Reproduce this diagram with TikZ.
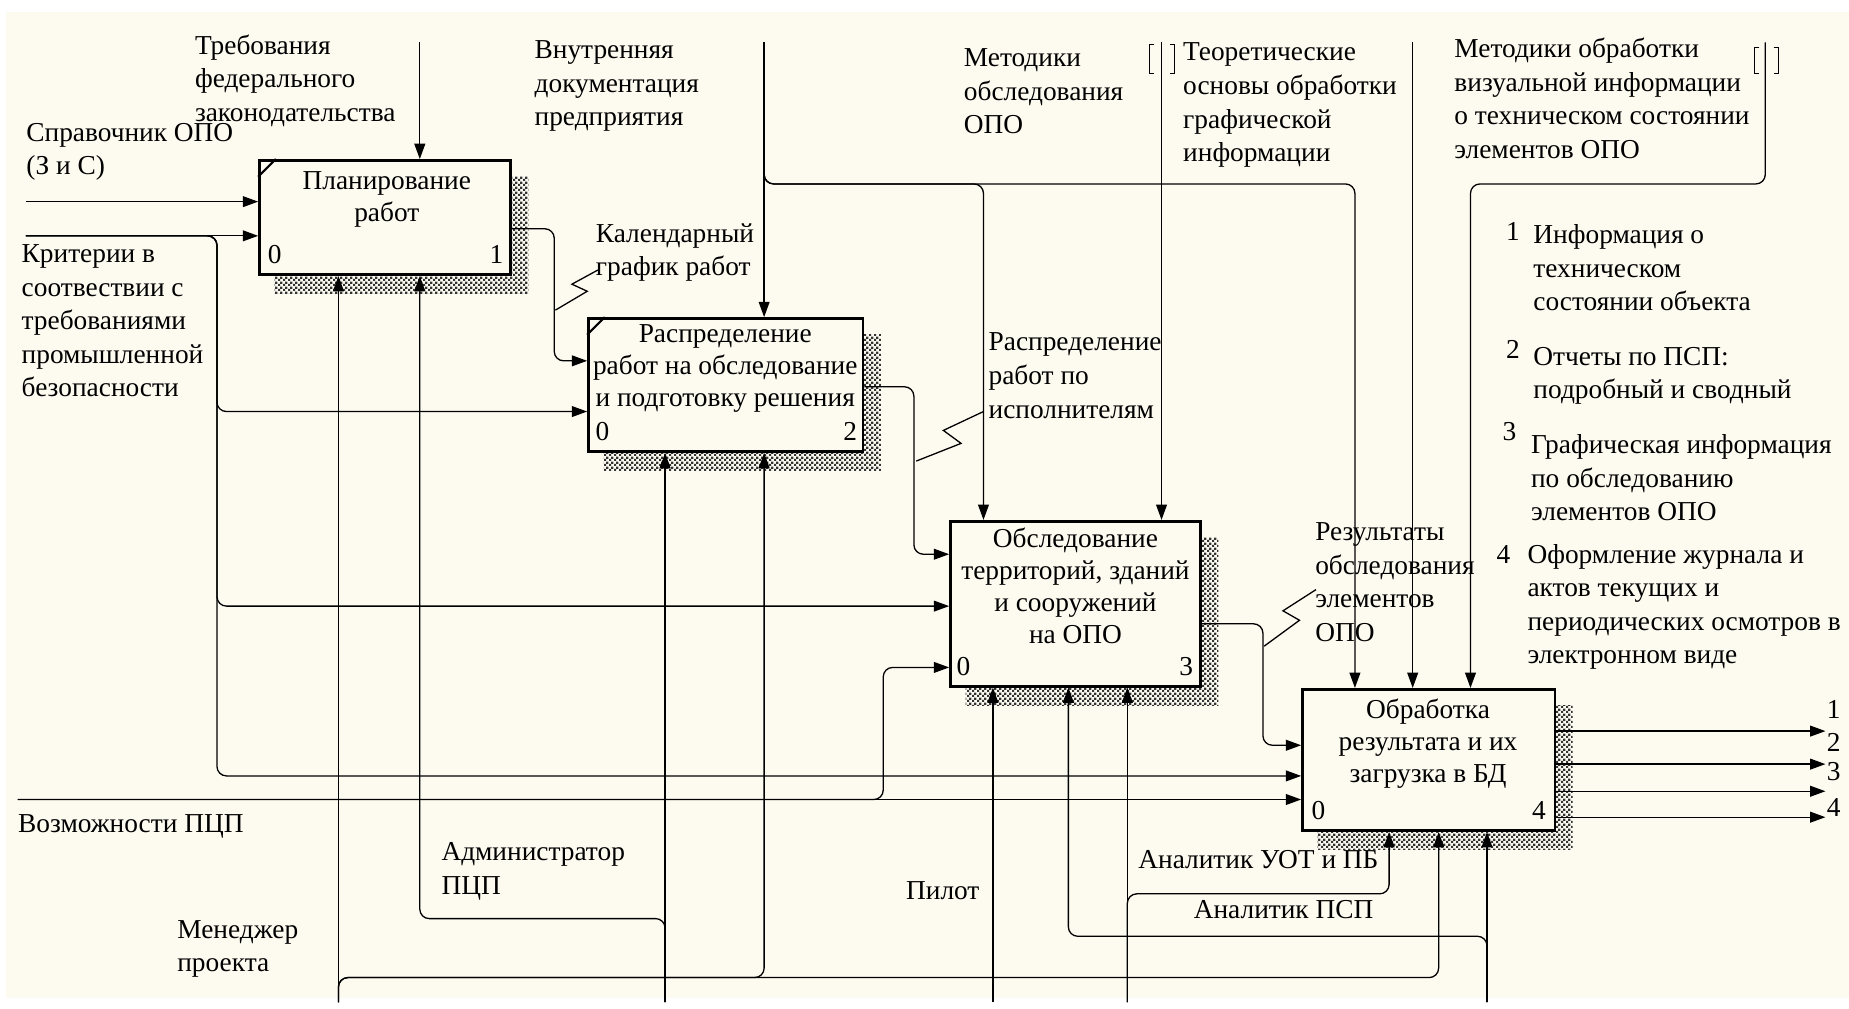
\documentclass[tikz,border=0pt]{standalone}
\usepackage{fontspec}
\setmainfont{Liberation Serif}
\usetikzlibrary{arrows.meta,patterns,backgrounds}
\definecolor{paper}{RGB}{253,250,240}
% fine checker used for the box shadows
\pgfdeclarepatternformonly{shadowdots}{\pgfpointorigin}{\pgfqpoint{2pt}{2pt}}{\pgfqpoint{2pt}{2pt}}%
  {\pgfpathrectangle{\pgfpointorigin}{\pgfqpoint{1pt}{1pt}}%
   \pgfpathrectangle{\pgfqpoint{1pt}{1pt}}{\pgfqpoint{1pt}{1pt}}\pgfusepath{fill}}

\begin{document}
\begin{tikzpicture}[x=0.5pt,y=-0.5pt,
  lbl/.style={anchor=north west, inner sep=0pt, align=left, font=\fontsize{11.6}{14.25}\selectfont},
  boxtxt/.style={anchor=north, inner sep=0pt, align=center, font=\fontsize{11.6}{13.6}\selectfont},
  num/.style={inner sep=0pt, font=\fontsize{11.6}{13}\selectfont},
  func/.style={draw, line width=1.1pt, fill=paper, inner sep=0pt},
  wire/.style={line width=0.55pt},
  arr/.style={wire, -{Triangle[length=6.5pt,width=4.6pt]}},
  rc/.style={rounded corners=4pt},
  brk/.style={line width=0.5pt},
  shadowfill/.style={pattern=shadowdots, pattern color=black!80},
]
\useasboundingbox (0,0) rectangle (1568,855);

% ---- activity boxes
\node[func, minimum width=106.5pt, minimum height=48.5pt] (b1) at (326.5,184.5) {};
\node[func, minimum width=116.5pt, minimum height=56.5pt] (b2) at (615.5,326.5) {};
\node[func, minimum width=106pt,   minimum height=70pt]   (b3) at (912,512) {};
\node[func, minimum width=107pt,   minimum height=60pt]   (b4) at (1211.5,644.5) {};

\begin{scope}[on background layer]
  \fill[paper] (5,10) rectangle (1568,846);
  \foreach \b in {b1,b2,b3,b4}
    \fill[shadowfill] ([shift={(14,15)}]\b.south west) rectangle ([shift={(14,15)}]\b.north east);
\end{scope}

% corner ticks of the undecomposed activities
\draw[line width=0.9pt] ([yshift=-7.5pt]b1.north west) -- ([xshift=7.5pt]b1.north west);
\draw[line width=0.9pt] ([yshift=-7.5pt]b2.north west) -- ([xshift=7.5pt]b2.north west);

% ---- box texts
\node[boxtxt] (t1) at (328,145) {Планирование\\работ};
\node[boxtxt] (t2) at (615,275) {Распределение\\работ на обследование\\и подготовку решения};
\node[boxtxt] (t3) at (912,447) {Обследование\\территорий, зданий\\и сооружений\\на ОПО};
\node[boxtxt] (t4) at (1211,592) {Обработка\\результата и их\\загрузка в БД};
\node[num] (n10) at (233,216) {0};  \node[num] (n11) at (421,216) {1};
\node[num] (n20) at (511,366) {0};  \node[num] (n22) at (721,366) {2};
\node[num] (n30) at (817,565) {0};  \node[num] (n33) at (1006,565) {3};
\node[num] (n40) at (1118,687) {0}; \node[num] (n44) at (1305,687) {4};

% ---- free ends and bends
\coordinate (sSpr) at (22,171);
\coordinate (sKr)  at (22,200);
\coordinate (jKr)  at (184,200);
\coordinate (sVz)  at (15,678);
\coordinate (jVz)  at (749,678);
\coordinate (cTr)  at (356,36);
\coordinate (cVn)  at (648,36);
\coordinate (cMo)  at (985,36);
\coordinate (cTe)  at (1198,36);
\coordinate (cMv)  at (1497,36);
\coordinate (jVn3) at (834,156);
\coordinate (jVn4) at (1149,156);
\coordinate (jMv)  at (1247,156);
\coordinate (o1)   at (470,194);
\coordinate (o2)   at (775,328);
\coordinate (o3)   at (1071,529);
\coordinate (y306) at (0,306);
\coordinate (y349) at (0,349);
\coordinate (y470) at (0,470);
\coordinate (y514) at (0,514);
\coordinate (y566) at (0,566);
\coordinate (y632) at (0,632);
\coordinate (y658) at (0,658);
\coordinate (e1)   at (1548,620);
\coordinate (e2)   at (1548,648);
\coordinate (e3)   at (1548,671);
\coordinate (e4)   at (1548,693);
\coordinate (mMen) at (287,850);
\coordinate (mAdm) at (564,850);
\coordinate (mPil) at (842,850);
\coordinate (mUot) at (956,850);
\coordinate (mPsp) at (1261,850);
\coordinate (jMen2) at (648,829);
\coordinate (jMen4) at (1220,829);
\coordinate (jAdm) at (356,779);
\coordinate (jUot) at (1178,758);
\coordinate (jPsp) at (906,794);

% ---- inputs
\draw[arr] (sSpr) -- (sSpr -| b1.west);
\draw[arr] (sKr) -- (sKr -| b1.west);
\draw[arr,rc] (sKr) -- (jKr) |- (y349 -| b2.west);
\draw[arr,rc] (sKr) -- (jKr) |- (y514 -| b3.west);
\draw[arr,rc] (sKr) -- (jKr) |- (y658 -| b4.west);
\draw[arr] (sVz) -- (sVz -| b4.west);
\draw[arr,rc] (sVz) -- (jVz) |- (y566 -| b3.west);

% ---- controls
\draw[arr] (cTr) -- (cTr |- b1.north);
\draw[arr] (cVn) -- (cVn |- b2.north);
\draw[arr,rc] (cVn) |- (jVn3) -- (jVn3 |- b3.north);
\draw[arr,rc] (cVn) |- (jVn4) -- (jVn4 |- b4.north);
\draw[arr] (cMo) -- (cMo |- b3.north);
\draw[arr] (cTe) -- (cTe |- b4.north);
\draw[arr,rc] (cMv) |- (jMv) -- (jMv |- b4.north);

% tunnel brackets
\draw[brk] (979,38) -- (975,38) -- (975,62) -- (979,62);
\draw[brk] (992,38) -- (996,38) -- (996,62) -- (992,62);
\draw[brk] (1492,40) -- (1488,40) -- (1488,62) -- (1492,62);
\draw[brk] (1504,40) -- (1508,40) -- (1508,62) -- (1504,62);

% ---- outputs between activities
\draw[arr,rc] (o1 -| b1.east) -- (o1) |- (y306 -| b2.west);
\draw[arr,rc] (o2 -| b2.east) -- (o2) |- (y470 -| b3.west);
\draw[arr,rc] (o3 -| b3.east) -- (o3) |- (y632 -| b4.west);

% ---- final outputs
\draw[arr] (e1 -| b4.east) -- (e1);
\draw[arr] (e2 -| b4.east) -- (e2);
\draw[arr] (e3 -| b4.east) -- (e3);
\draw[arr] (e4 -| b4.east) -- (e4);

% ---- mechanisms
\draw[arr] (mMen) -- (mMen |- b1.south);
\draw[arr,rc] (mMen) |- (jMen2) -- (jMen2 |- b2.south);
\draw[arr,rc] (mMen) |- (jMen4) -- (jMen4 |- b4.south);
\draw[arr] (mAdm) -- (mAdm |- b2.south);
\draw[arr,rc] (mAdm) |- (jAdm) -- (jAdm |- b1.south);
\draw[arr] (mPil) -- (mPil |- b3.south);
\draw[arr] (mUot) -- (mUot |- b3.south);
\draw[arr,rc] (mUot) |- (jUot) -- (jUot |- b4.south);
\draw[arr] (mPsp) -- (mPsp |- b4.south);
\draw[arr,rc] (mPsp) |- (jPsp) -- (jPsp |- b3.south);

% ---- squiggles tying labels to their arrows
\draw[wire] (471,263) -- (498,247) -- (485,241) -- (507,229);
\draw[wire] (777,391) -- (815,376) -- (800,365) -- (834,349);
\draw[wire] (1072,548) -- (1102,526) -- (1088,518) -- (1116,500);

% ---- arrow labels
\node[lbl] (lTr) at (165,29) {Требования\\федерального\\законодательства};
\node[lbl] (lSpr) at (22,104) {Справочник ОПО\\(З и С)};
\node[lbl] (lKr) at (18,207) {Критерии в\\соотвествии с\\требованиями\\промышленной\\безопасности};
\node[lbl] (lVn) at (453,34) {Внутренняя\\документация\\предприятия};
\node[lbl] (lMo) at (817,41) {Методики\\обследования\\ОПО};
\node[lbl] (lTe) at (1003,36) {Теоретические\\основы обработки\\графической\\информации};
\node[lbl] (lMv) at (1233,32) {Методики обработки\\визуальной информации\\о техническом состоянии\\элементов ОПО};
\node[lbl] (lKal) at (505,189) {Календарный\\график работ};
\node[lbl] (lRas) at (838,282) {Распределение\\работ по\\исполнителям};
\node[lbl] (lRez) at (1115,443) {Результаты\\обследования\\элементов\\ОПО};
\node[lbl] (lVz) at (15,690) {Возможности ПЦП};
\node[lbl] (lAdm) at (374,714) {Администратор\\ПЦП};
\node[lbl] (lMen) at (150,780) {Менеджер\\проекта};
\node[lbl] (lPil) at (768,747) {Пилот};
\node[lbl] (lUot) at (965,721) {Аналитик УОТ и ПБ};
\node[lbl] (lPsp) at (1012,763) {Аналитик ПСП};

% ---- output legend
\node[num] (k1) at (1283,196) {1};
\node[lbl] (d1) at (1300,190) {Информация о\\техническом\\состоянии объекта};
\node[num] (k2) at (1283,296) {2};
\node[lbl] (d2) at (1300,294) {Отчеты по ПСП:\\подробный и сводный};
\node[num] (k3) at (1280,366) {3};
\node[lbl] (d3) at (1298,368) {Графическая информация\\по обследованию\\элементов ОПО};
\node[num] (k4) at (1275,470) {4};
\node[lbl] (d4) at (1295,461) {Оформление журнала и\\актов текущих и\\периодических осмотров в\\электронном виде};
\node[num] (q1) at (1555,602) {1};
\node[num] (q2) at (1555,630) {2};
\node[num] (q3) at (1555,654) {3};
\node[num] (q4) at (1555,685) {4};
\end{tikzpicture}
\end{document}
